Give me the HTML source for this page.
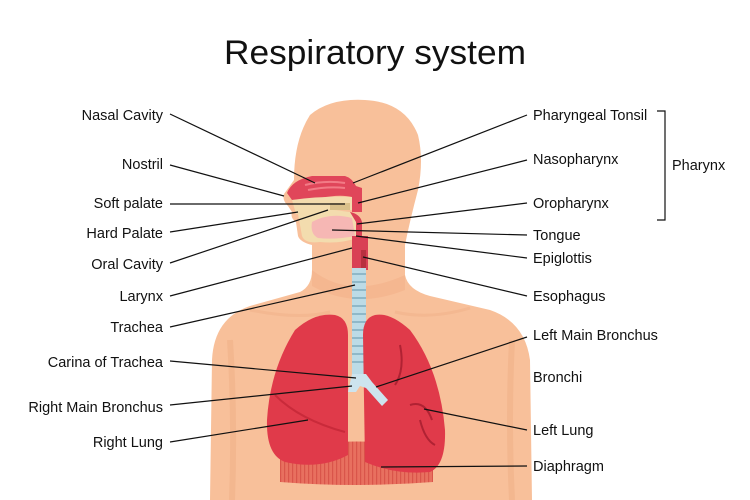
<!DOCTYPE html>
<html><head><meta charset="utf-8"><style>
html,body{margin:0;padding:0;background:#fff;}
svg{display:block;}
text{font-family:"Liberation Sans",sans-serif;fill:#111;}
</style></head><body>
<svg width="750" height="500" viewBox="0 0 750 500">
<defs>
<pattern id="dstr" width="4" height="10" patternUnits="userSpaceOnUse"><rect width="4" height="10" fill="#e8705f"/><rect width="1.2" height="10" fill="#d9554a"/></pattern>
</defs>
<rect width="750" height="500" fill="#fff"/>
<path d="M210,500 L212,360 Q214,318 250,306 L300,292 Q312,286 312,270 L312,245 Q300,242 298,236 L296,222 Q290,218 292,212 L288,206 Q282,200 284,194 L294,180 Q294,140 310,115 Q330,98 365,100 Q405,102 418,135 Q424,160 418,190 Q410,220 405,245 L405,275 Q408,290 430,296 L490,310 Q525,322 530,360 L532,500 Z" fill="#f8c09a"/>
<path d="M312,270 Q350,300 405,275 L405,290 Q355,310 312,286 Z" fill="#f3b18a" opacity="0.6"/>
<path d="M230,340 Q235,420 232,500" stroke="#f0b088" stroke-width="6" fill="none" opacity="0.6"/>
<path d="M512,340 Q508,420 512,500" stroke="#f0b088" stroke-width="6" fill="none" opacity="0.6"/>
<path d="M250,310 Q300,320 330,312 M470,308 Q430,320 395,312" stroke="#f0b088" stroke-width="3" fill="none" opacity="0.5"/>
<path d="M287,193 Q292,180 312,176 L345,176 Q352,178 356,186 L362,188 L362,212 L352,212 L352,197 Q340,194 320,198 L292,200 Z" fill="#e0465a"/>
<path d="M305,185 Q325,180 345,183" stroke="#f27b86" stroke-width="2" fill="none"/>
<path d="M308,190 Q328,186 345,188" stroke="#f27b86" stroke-width="2" fill="none"/>
<path d="M292,200 Q320,196 352,197 L352,210 Q330,210 296,214 Z" fill="#f3dcae"/>
<path d="M330,203 L350,203 L350,210 L330,210 Z" fill="#d9c08a"/>
<path d="M298,214 Q325,208 350,212 L357,215 L357,238 Q340,244 320,242 Q305,244 302,236 Z" fill="#f3dcae"/>
<path d="M312,222 Q330,212 352,218 L355,236 Q335,240 318,238 Q310,234 312,222 Z" fill="#f6b7b4"/>
<path d="M350,212 Q360,214 362,222 L362,250 L356,250 L356,222 Z" fill="#d94055"/>
<path d="M352,236 L368,236 L368,270 L352,270 Z" fill="#d94055"/>
<path d="M361,250 L366,250 L366,268 L361,268 Z" fill="#b8303f"/>
<rect x="352" y="268" width="14" height="108" fill="#bcdbe6"/>
<g stroke="#8fb8c8" stroke-width="2">
<line x1="352" y1="274" x2="366" y2="274"/><line x1="352" y1="282" x2="366" y2="282"/><line x1="352" y1="290" x2="366" y2="290"/><line x1="352" y1="298" x2="366" y2="298"/><line x1="352" y1="306" x2="366" y2="306"/><line x1="352" y1="314" x2="366" y2="314"/><line x1="352" y1="322" x2="366" y2="322"/><line x1="352" y1="330" x2="366" y2="330"/><line x1="352" y1="338" x2="366" y2="338"/><line x1="352" y1="346" x2="366" y2="346"/><line x1="352" y1="354" x2="366" y2="354"/><line x1="352" y1="362" x2="366" y2="362"/></g>
<path d="M280,445 Q356,438 433,445 L433,482 Q356,488 280,482 Z" fill="url(#dstr)"/>
<path d="M335,315 Q348,318 348,335 L348,455 Q320,470 285,462 Q266,455 267,420 Q270,370 295,330 Q315,312 335,315 Z" fill="#e03a4a"/>
<path d="M275,395 Q300,420 345,432" stroke="#c92a3a" stroke-width="2" fill="none"/>
<path d="M375,315 Q390,312 410,330 Q440,370 445,430 Q446,465 430,472 Q395,475 365,462 L363,335 Q363,318 375,315 Z" fill="#e03a4a"/>
<path d="M400,345 Q405,370 395,385 M410,405 Q425,400 432,420 M420,420 Q425,440 435,445" stroke="#b02233" stroke-width="2" fill="none"/>
<path d="M352,374 L366,374 L372,382 L388,400 L382,406 L366,388 L360,386 L356,392 L348,392 Z" fill="#cde4ee"/>
<g stroke="#111" stroke-width="1.2" fill="none">
<line x1="170" y1="114" x2="315" y2="183"/>
<line x1="170" y1="165" x2="284" y2="196"/>
<line x1="170" y1="204" x2="345" y2="204"/>
<line x1="170" y1="232" x2="298" y2="212"/>
<line x1="170" y1="263" x2="328" y2="210"/>
<line x1="170" y1="296" x2="352" y2="248"/>
<line x1="170" y1="327" x2="355" y2="285"/>
<line x1="170" y1="361" x2="356" y2="378"/>
<line x1="170" y1="405" x2="352" y2="386"/>
<line x1="170" y1="442" x2="308" y2="420"/>
<line x1="527" y1="115" x2="353" y2="183"/>
<line x1="527" y1="160" x2="358" y2="203"/>
<line x1="527" y1="203" x2="357" y2="224"/>
<line x1="527" y1="235" x2="332" y2="230"/>
<line x1="527" y1="258" x2="356" y2="236"/>
<line x1="527" y1="296" x2="363" y2="257"/>
<line x1="527" y1="337" x2="376" y2="387"/>
<line x1="527" y1="430" x2="424" y2="409"/>
<line x1="527" y1="466" x2="381" y2="467"/>
<polyline points="657,111 665,111 665,220 657,220"/>
</g>
<text x="375" y="64" font-size="34" text-anchor="middle" textLength="302" lengthAdjust="spacingAndGlyphs">Respiratory system</text>
<g font-size="14.5" text-anchor="end">
<text x="163" y="120">Nasal Cavity</text>
<text x="163" y="169">Nostril</text>
<text x="163" y="208">Soft palate</text>
<text x="163" y="238">Hard Palate</text>
<text x="163" y="269">Oral Cavity</text>
<text x="163" y="301">Larynx</text>
<text x="163" y="332">Trachea</text>
<text x="163" y="367">Carina of Trachea</text>
<text x="163" y="412">Right Main Bronchus</text>
<text x="163" y="447">Right Lung</text>
</g>
<g font-size="14.5">
<text x="533" y="120">Pharyngeal Tonsil</text>
<text x="533" y="164">Nasopharynx</text>
<text x="533" y="208">Oropharynx</text>
<text x="533" y="240">Tongue</text>
<text x="533" y="263">Epiglottis</text>
<text x="533" y="301">Esophagus</text>
<text x="533" y="340">Left Main Bronchus</text>
<text x="533" y="382">Bronchi</text>
<text x="533" y="435">Left Lung</text>
<text x="533" y="471">Diaphragm</text>
<text x="672" y="170">Pharynx</text>
</g>
</svg>
</body></html>
